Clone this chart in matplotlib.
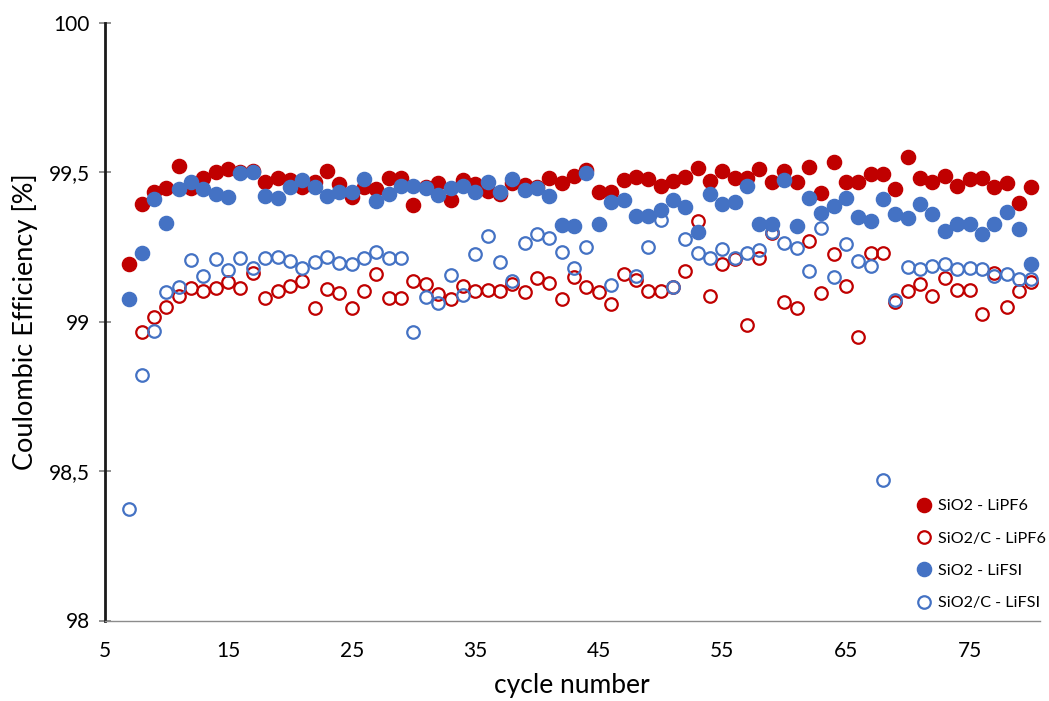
import numpy as np
import matplotlib
matplotlib.use("Agg")
import matplotlib.pyplot as plt
from matplotlib.ticker import FuncFormatter

plt.rcParams['font.family'] = ['Lato', 'DejaVu Sans']

cycles = list(range(7, 81))

sio2_lipf6 = [99.193, 99.393, 99.433, 99.448, 99.521, 99.446, 99.482, 99.500, 99.511, 99.502,
              99.505, 99.467, 99.480, 99.474, 99.452, 99.469, 99.504, 99.460, 99.418, 99.452,
              99.443, 99.480, 99.482, 99.391, 99.452, 99.463, 99.407, 99.474, 99.461, 99.437,
              99.426, 99.463, 99.458, 99.452, 99.480, 99.465, 99.488, 99.508, 99.435, 99.435,
              99.474, 99.483, 99.478, 99.455, 99.472, 99.483, 99.513, 99.472, 99.505, 99.482,
              99.482, 99.510, 99.467, 99.504, 99.469, 99.519, 99.432, 99.535, 99.469, 99.469,
              99.493, 99.493, 99.444, 99.550, 99.482, 99.469, 99.489, 99.454, 99.477, 99.482,
              99.452, 99.465, 99.398, 99.450]

sio2c_lipf6 = [np.nan, 98.965, 99.017, 99.048, 99.087, 99.112, 99.104, 99.112, 99.134, 99.114,
               99.162, 99.078, 99.103, 99.119, 99.136, 99.045, 99.109, 99.095, 99.045, 99.103,
               99.159, 99.080, 99.078, 99.136, 99.126, 99.092, 99.076, 99.120, 99.103, 99.106,
               99.104, 99.125, 99.100, 99.145, 99.128, 99.075, 99.151, 99.115, 99.098, 99.058,
               99.159, 99.138, 99.104, 99.104, 99.115, 99.171, 99.337, 99.086, 99.193, 99.209,
               98.989, 99.214, 99.298, 99.067, 99.045, 99.271, 99.095, 99.227, 99.119, 98.950,
               99.229, 99.229, 99.065, 99.103, 99.125, 99.086, 99.147, 99.106, 99.106, 99.026,
               99.162, 99.050, 99.103, 99.132]

sio2_lifsi = [99.076, 99.229, 99.410, 99.329, 99.445, 99.467, 99.443, 99.427, 99.418, 99.497,
              99.500, 99.422, 99.413, 99.450, 99.474, 99.450, 99.422, 99.433, 99.435, 99.477,
              99.405, 99.426, 99.455, 99.455, 99.446, 99.424, 99.448, 99.455, 99.433, 99.467,
              99.435, 99.477, 99.441, 99.448, 99.422, 99.324, 99.320, 99.497, 99.326, 99.402,
              99.407, 99.354, 99.354, 99.374, 99.407, 99.383, 99.299, 99.426, 99.393, 99.402,
              99.455, 99.326, 99.326, 99.474, 99.320, 99.413, 99.365, 99.387, 99.415, 99.351,
              99.337, 99.410, 99.360, 99.348, 99.393, 99.360, 99.304, 99.326, 99.326, 99.292,
              99.326, 99.366, 99.309, 99.193]

sio2c_lifsi = [98.373, 98.822, 98.970, 99.100, 99.117, 99.207, 99.153, 99.209, 99.173, 99.214,
               99.181, 99.212, 99.218, 99.203, 99.179, 99.201, 99.218, 99.195, 99.193, 99.214,
               99.234, 99.214, 99.214, 98.965, 99.084, 99.062, 99.157, 99.089, 99.227, 99.288,
               99.199, 99.136, 99.264, 99.292, 99.281, 99.232, 99.179, 99.251, np.nan, 99.123,
               np.nan, 99.153, 99.251, 99.340, 99.117, 99.277, 99.231, 99.214, 99.242, 99.212,
               99.229, 99.240, 99.299, 99.264, 99.248, 99.170, 99.313, 99.151, 99.259, 99.203,
               99.187, 98.470, 99.073, 99.182, 99.176, 99.186, 99.192, 99.176, 99.181, 99.176,
               99.154, 99.159, 99.143, 99.143]

x_ticks = [5, 15, 25, 35, 45, 55, 65, 75]
y_ticks = [98, 98.5, 99, 99.5, 100]

labels = ["SiO2 - LiPF6", "SiO2/C - LiPF6", "SiO2 - LiFSI", "SiO2/C - LiFSI"]
red = "#C00000"
blue = "#4472C4"

fig = plt.figure(figsize=(10.49, 7.01), dpi=100)
ax = fig.add_axes([104.5/1049, 1 - 620.5/701, (1040 - 104.5)/1049, (620.5 - 22.9)/701])

ms_f = 10.2
ms_o = 9.0
mew_o = 1.6
ax.plot(cycles, sio2_lipf6, 'o', ls='none', ms=ms_f, color=red, mec=red, label=labels[0])
ax.plot(cycles, sio2c_lipf6, 'o', ls='none', ms=ms_o, mfc='none', mec=red, mew=mew_o, label=labels[1])
ax.plot(cycles, sio2_lifsi, 'o', ls='none', ms=ms_f, color=blue, mec=blue, label=labels[2])
ax.plot(cycles, sio2c_lifsi, 'o', ls='none', ms=ms_o, mfc='none', mec=blue, mew=mew_o, label=labels[3])

ax.set_xlim(5, 80.7)
ax.set_ylim(98, 100)
ax.set_xticks(x_ticks)
ax.set_yticks(y_ticks)
ax.yaxis.set_major_formatter(FuncFormatter(lambda v, p: (f"{v:g}").replace('.', ',')))
ax.xaxis.set_major_formatter(FuncFormatter(lambda v, p: f"{v:g}"))

for s in ['top', 'right']:
    ax.spines[s].set_visible(False)
ax.spines['left'].set_linewidth(2.0)
ax.spines['left'].set_color('#1a1a1a')
ax.spines['bottom'].set_linewidth(1.0)
ax.spines['bottom'].set_color('#8c8c8c')
ax.tick_params(axis='y', direction='inout', length=9, width=1.2, color='#7f7f7f', labelsize=15, pad=6)
ax.tick_params(axis='x', length=0, labelsize=15, pad=15)

ax.set_xlabel("cycle number", fontsize=19)
ax.xaxis.label.set_verticalalignment('center')
ax.xaxis.set_label_coords(0.5, -(686 - 620.5) / (620.5 - 22.9))
ax.set_ylabel("Coulombic Efficiency [%]", fontsize=19.5, labelpad=8)

fig.legend(loc='upper left', bbox_to_anchor=(916/1049, 1 - 499/701), frameon=False,
           fontsize=11.6, handlelength=1.0, handletextpad=0.35, labelspacing=1.12,
           borderaxespad=0, borderpad=0)

fig.savefig("out.png", dpi=100)
